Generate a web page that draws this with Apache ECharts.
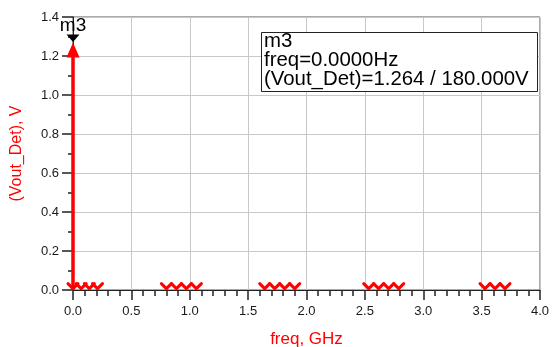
<!DOCTYPE html>
<html><head><meta charset="utf-8">
<script src="https://cdn.jsdelivr.net/npm/echarts@6/dist/echarts.min.js"></script>
<style>html,body{margin:0;padding:0;background:#fff}#c{width:552px;height:347px}</style>
</head><body><div id="c"></div>
<script>
const FONT = "'Liberation Sans', Arial, Helvetica, sans-serif";
// main stem (marker m3)
const mainFreq = [0.0];
const mainVal = [1.264];
// small spectral lines near zero
const sideFreq = [0.0, 0.07, 0.14, 0.21,
  0.80, 0.886, 0.971, 1.057,
  1.642, 1.728, 1.813, 1.899,
  2.533, 2.618, 2.704, 2.79,
  3.529, 3.615, 3.70];
const sideVal = [0.012, 0.012, 0.012, 0.012,
  0.012, 0.012, 0.012, 0.012,
  0.012, 0.012, 0.012, 0.012,
  0.012, 0.012, 0.012, 0.012,
  0.012, 0.012, 0.012];
const markerLines = ['m3', 'freq=0.0000Hz', '(Vout_Det)=1.264 / 180.000V'];
const xName = 'freq, GHz';
const yName = '(Vout_Det), V';

const RED = '#ff0000';
const chart = echarts.init(document.getElementById('c'), null, {renderer: 'canvas'});

const mainData = mainFreq.map((f, i) => [f, mainVal[i]]);
const sideData = sideFreq.map((f, i) => [f, sideVal[i]]);

chart.setOption({
  animation: false,
  grid: {left: 73, right: 12, top: 17, bottom: 57, show: true, borderColor: '#555', borderWidth: 1,
    containLabel: false, outerBoundsMode: 'none'},
  xAxis: {
    type: 'value', min: 0, max: 4, interval: 0.5,
    name: xName, nameLocation: 'middle', nameGap: 41,
    nameTextStyle: {color: RED, fontSize: 17, fontFamily: FONT},
    axisLine: {show: true, lineStyle: {color: '#222', width: 1}},
    axisTick: {show: true, length: 10, lineStyle: {color: '#222', width: 1.5}},
    minorTick: {show: true, splitNumber: 5, length: 6, lineStyle: {color: '#222', width: 1.5}},
    axisLabel: {color: '#1a1a1a', fontSize: 13, fontFamily: FONT, margin: 15, formatter: v => v.toFixed(1)},
    splitLine: {show: true, lineStyle: {color: '#c8c8c8', width: 1}}
  },
  yAxis: {
    type: 'value', min: 0, max: 1.4, interval: 0.2,
    name: yName, nameLocation: 'middle', nameGap: 48, nameRotate: 90,
    nameTextStyle: {color: RED, fontSize: 16, fontFamily: FONT},
    axisLine: {show: true, lineStyle: {color: '#222', width: 1}},
    axisTick: {show: true, length: 11, lineStyle: {color: '#222', width: 1.5}},
    minorTick: {show: true, splitNumber: 2, length: 5, lineStyle: {color: '#222', width: 1.5}},
    axisLabel: {color: '#1a1a1a', fontSize: 13, fontFamily: FONT, margin: 14, formatter: v => v.toFixed(1)},
    splitLine: {show: true, lineStyle: {color: '#c8c8c8', width: 1}}
  },
  series: [
    {
      type: 'custom', data: sideData, clip: false, z: 3,
      renderItem(params, api) {
        const c = api.coord([api.value(0), api.value(1)]);
        return {type: 'polyline', shape: {points: [[c[0] - 5, c[1] - 4], [c[0], c[1] + 1], [c[0] + 5, c[1] - 4]]},
          style: {stroke: RED, lineWidth: 3, fill: null, lineJoin: 'round', lineCap: 'round'}};
      }
    },
    {
      type: 'custom', data: mainData, clip: false, z: 4,
      renderItem(params, api) {
        const x = api.value(0), v = api.value(1);
        const top = api.coord([x, v]);
        const base = api.coord([x, 0]);
        return {type: 'group', children: [
          {type: 'line', shape: {x1: base[0], y1: base[1], x2: top[0], y2: top[1] + 12}, style: {stroke: RED, lineWidth: 3.5}},
          {type: 'polygon', shape: {points: [[top[0], top[1] - 1], [top[0] - 6.5, top[1] + 14], [top[0] + 6.5, top[1] + 14]]}, style: {fill: RED}},
          {type: 'polygon', shape: {points: [[top[0] - 6.5, top[1] - 9], [top[0] + 6.5, top[1] - 9], [top[0], top[1] - 1.5]]}, style: {fill: '#000'}},
          {type: 'text', style: {x: top[0], y: top[1] - 18, text: markerLines[0], fill: '#000', font: '19px ' + FONT, textAlign: 'center', textVerticalAlign: 'middle'}}
        ]};
      }
    }
  ],
  graphic: [
    {type: 'rect', left: 261, top: 32, shape: {width: 276, height: 59}, style: {fill: '#fff', stroke: '#222', lineWidth: 1}, z: 10},
    {type: 'text', x: 264, y: 41.5, style: {text: markerLines[0], fill: '#000', font: '20.4px ' + FONT, textVerticalAlign: 'middle'}, z: 11},
    {type: 'text', x: 264, y: 60, style: {text: markerLines[1], fill: '#000', font: '20.4px ' + FONT, textVerticalAlign: 'middle'}, z: 11},
    {type: 'text', x: 264, y: 79, style: {text: markerLines[2], fill: '#000', font: '20.4px ' + FONT, textVerticalAlign: 'middle'}, z: 11}
  ]
});
</script>
</body></html>
